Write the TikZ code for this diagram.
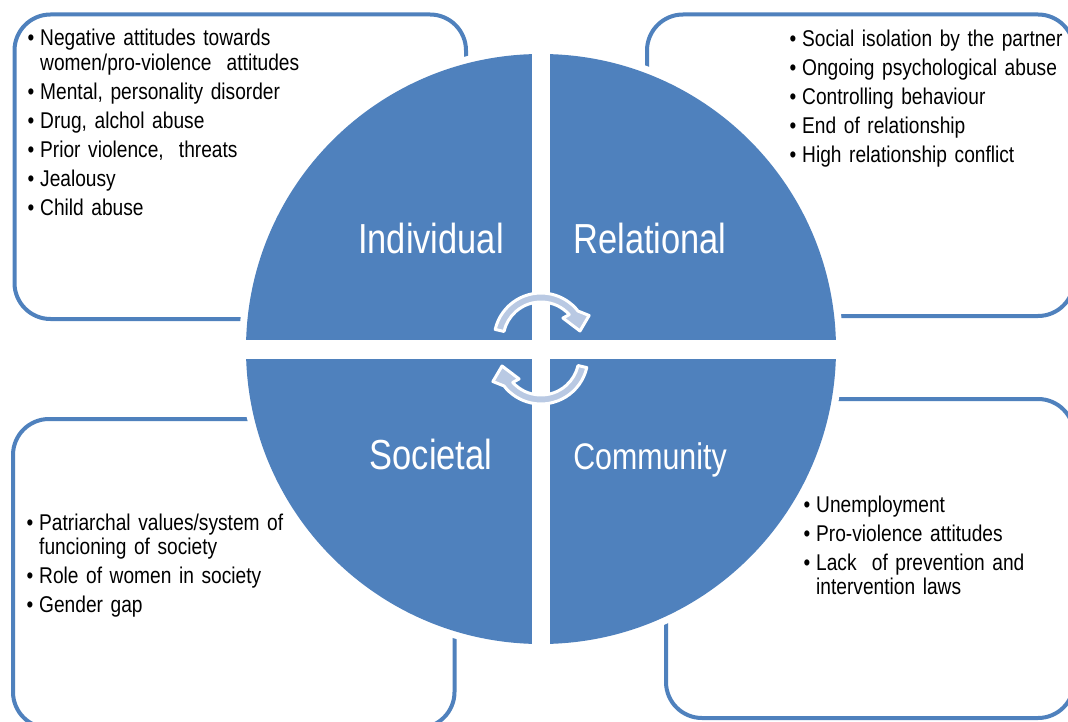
\documentclass[tikz,border=0pt]{standalone}
\usepackage{fontspec}
\setmainfont{Liberation Sans}
\newfontfamily\listfont{Liberation Sans}[FakeStretch=0.84]
\newfontfamily\quadfont{Liberation Sans}[FakeStretch=0.82]
\usepackage{xcolor}
\usepackage{tikz}
\usetikzlibrary{calc}
\definecolor{quadblue}{RGB}{79,129,189}
\definecolor{arrowfill}{RGB}{185,201,227}
\newcommand{\itembul}{\makebox[12.5pt][l]{•}}
\newcommand{\itemhang}{\hspace*{12.5pt}}

\begin{document}
\begin{tikzpicture}[x=1pt, y=-1pt,
    factorbox/.style={draw=quadblue, line width=4pt, rounded corners=36pt, fill=white, inner sep=0pt},
    factorlist/.style={anchor=base west, align=left, text width=330pt, inner sep=0pt, font=\listfont\fontsize{22.8pt}{24.5pt}\selectfont},
    quadlabel/.style={anchor=base, text=white, inner sep=0pt, font=\quadfont\fontsize{42pt}{50pt}\selectfont},
    cyclearrow/.style={fill=arrowfill, draw=white, line width=3pt, line join=round}]
        \useasboundingbox (0,0) rectangle (1068,722);

        % boxes
        \node[factorbox, minimum width=451.5pt, minimum height=304.5pt] (indbox) at (240.25,166.75) {};
        \node[factorbox, minimum width=427pt, minimum height=301.5pt] (relbox) at (860.5,165.25) {};
        \node[factorbox, minimum width=441.5pt, minimum height=309pt] (socbox) at (233.75,573.5) {};
        \node[factorbox, minimum width=408pt, minimum height=319pt] (combox) at (870,558.5) {};

        % circle
        \coordinate (ctr) at (541,349);
        \fill[white] (ctr) circle[radius=302];
        \fill[quadblue] (ctr) circle[radius=295];
        \fill[white] (532,45) rectangle (550,653);
        \fill[white] (237,339.5) rectangle (845,358.5);

        % cycle arrows
        \coordinate (upc) at (541,340);
        \coordinate (loc) at (541,357);
        \filldraw[cyclearrow] ($(upc)+(193:47)$) arc[start angle=193, end angle=322, radius=47]
            -- ($(upc)+(333:54)$) -- ($(upc)+(347:40)$) -- ($(upc)+(315:31)$) -- ($(upc)+(318:38)$)
            arc[start angle=318, end angle=193, radius=38] -- cycle;
        \filldraw[cyclearrow] ($(loc)+(13:47)$) arc[start angle=13, end angle=142, radius=47]
            -- ($(loc)+(153:54)$) -- ($(loc)+(167:40)$) -- ($(loc)+(135:31)$) -- ($(loc)+(138:38)$)
            arc[start angle=138, end angle=13, radius=38] -- cycle;

        % quadrant labels
        \node[quadlabel] (indlbl) at (431,253) {Individual};
        \node[quadlabel] (rellbl) at (650,253) {Relational};
        \node[quadlabel] (soclbl) at (431,469) {Societal};
        \node[quadlabel, font=\quadfont\fontsize{37pt}{44pt}\selectfont] (comlbl) at (650,469) {Community};

        % factor lists
        \node[factorlist] (indlist) at (27.5,46) {\itembul Negative attitudes towards\\
        \itemhang women/pro-violence\ \ attitudes\\[4.5pt]
        \itembul Mental, personality disorder\\[4.5pt]
        \itembul Drug, alchol abuse\\[4.5pt]
        \itembul Prior violence,\ \ threats\\[4.5pt]
        \itembul Jealousy\\[4.5pt]
        \itembul Child abuse};
        \node[factorlist] (rellist) at (789.5,47) {\itembul Social isolation by the partner\\[4.5pt]
        \itembul Ongoing psychological abuse\\[4.5pt]
        \itembul Controlling behaviour\\[4.5pt]
        \itembul End of relationship\\[4.5pt]
        \itembul High relationship conflict};
        \node[factorlist] (soclist) at (26.5,530) {\itembul Patriarchal values/system of\\
        \itemhang funcioning of society\\[4.5pt]
        \itembul Role of women in society\\[4.5pt]
        \itembul Gender gap};
        \node[factorlist] (comlist) at (803.5,512) {\itembul Unemployment\\[4.5pt]
        \itembul Pro-violence attitudes\\[4.5pt]
        \itembul Lack\ \ of prevention and\\
        \itemhang intervention laws};
    \end{tikzpicture}
\end{document}
